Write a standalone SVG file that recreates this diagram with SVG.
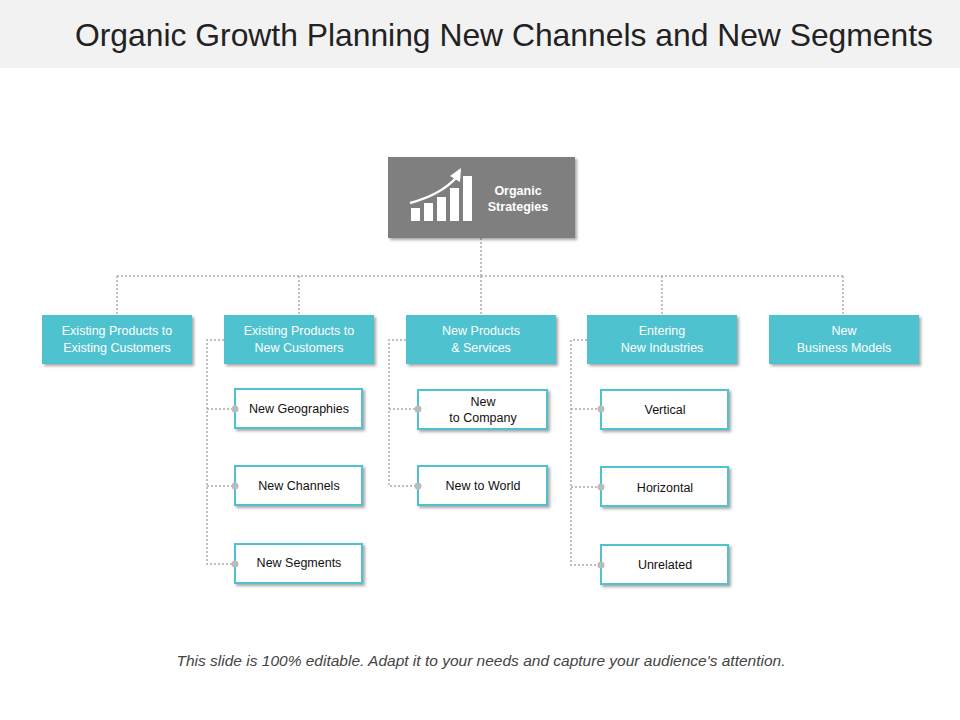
<svg xmlns="http://www.w3.org/2000/svg" width="960" height="720" viewBox="0 0 960 720">
<defs>
<filter id="sh" x="-10%" y="-10%" width="130%" height="140%"><feDropShadow dx="2" dy="2" stdDeviation="1.5" flood-color="#000" flood-opacity="0.35"/></filter>
</defs>
<style>
.t{font-family:"Liberation Sans",Arial,sans-serif}
.p{fill:#4fc2cf;filter:url(#sh)}
.pt{fill:#fff;font-size:12.5px;text-anchor:middle}
.c{fill:#fff;stroke:#4fc2cf;stroke-width:2;filter:url(#sh)}
.ct{fill:#111;font-size:12.5px;text-anchor:middle}
.ln{fill:none;stroke:#aaa;stroke-width:1.5;stroke-dasharray:2 2}
.d{fill:#bbb}
</style>
<rect x="0" y="0" width="960" height="68" fill="#f2f2f2"/>
<text class="t" x="75" y="46" font-size="31.5" fill="#222" textLength="858" lengthAdjust="spacingAndGlyphs">Organic Growth Planning New Channels and New Segments</text>
<g id="connectors">
<path class="ln" d="M481 238V276M117 276H843M117 276V315M299 276V315M481 276V315M662 276V315M843 276V315"/>
<path class="ln" d="M224 340H207V564H235M207 409H235M207 486H235"/>
<path class="ln" d="M406 340H389V486H418M389 409H418"/>
<path class="ln" d="M587 340H571V565H601M571 409H601M571 487H601"/>
</g>
<g id="root">
<rect x="388" y="157" width="187" height="81" fill="#7f7f7f" filter="url(#sh)"/>
<g fill="#fff"><rect x="411" y="208" width="9" height="13"/><rect x="424" y="203" width="9" height="18"/><rect x="437" y="197" width="9" height="24"/><rect x="450" y="188" width="9" height="33"/><rect x="463" y="176" width="9" height="45"/></g>
<path d="M410 203Q440 195 456 178" fill="none" stroke="#fff" stroke-width="2.5"/>
<path d="M461 168L460 182L450 176Z" fill="#fff"/>
<text class="t" x="518" y="195" font-size="12.5" font-weight="bold" fill="#fff" text-anchor="middle">Organic</text>
<text class="t" x="518" y="211" font-size="12.5" font-weight="bold" fill="#fff" text-anchor="middle">Strategies</text>
</g>
<g id="p1"><rect class="p" x="42" y="315" width="150" height="49"/><text class="t pt" x="117" y="335">Existing Products to</text><text class="t pt" x="117" y="352">Existing Customers</text></g>
<g id="p2"><rect class="p" x="224" y="315" width="150" height="49"/><text class="t pt" x="299" y="335">Existing Products to</text><text class="t pt" x="299" y="352">New Customers</text></g>
<g id="p3"><rect class="p" x="406" y="315" width="150" height="49"/><text class="t pt" x="481" y="335">New Products</text><text class="t pt" x="481" y="352">&amp; Services</text></g>
<g id="p4"><rect class="p" x="587" y="315" width="150" height="49"/><text class="t pt" x="662" y="335">Entering</text><text class="t pt" x="662" y="352">New Industries</text></g>
<g id="p5"><rect class="p" x="769" y="315" width="150" height="49"/><text class="t pt" x="844" y="335">New</text><text class="t pt" x="844" y="352">Business Models</text></g>
<g id="c1"><rect class="c" x="235" y="389" width="127" height="39"/><text class="t ct" x="299" y="413">New Geographies</text></g>
<g id="c2"><rect class="c" x="235" y="466" width="127" height="39"/><text class="t ct" x="299" y="490">New Channels</text></g>
<g id="c3"><rect class="c" x="235" y="544" width="127" height="39"/><text class="t ct" x="299" y="567">New Segments</text></g>
<g id="c4"><rect class="c" x="418" y="390" width="129" height="39"/><text class="t ct" x="483" y="406">New</text><text class="t ct" x="483" y="422">to Company</text></g>
<g id="c5"><rect class="c" x="418" y="466" width="129" height="39"/><text class="t ct" x="483" y="490">New to World</text></g>
<g id="c6"><rect class="c" x="601" y="390" width="127" height="39"/><text class="t ct" x="665" y="414">Vertical</text></g>
<g id="c7"><rect class="c" x="601" y="467" width="127" height="39"/><text class="t ct" x="665" y="492">Horizontal</text></g>
<g id="c8"><rect class="c" x="601" y="545" width="127" height="39"/><text class="t ct" x="665" y="569">Unrelated</text></g>
<g id="dots">
<circle class="d" cx="235" cy="409" r="3.5"/><circle class="d" cx="235" cy="486" r="3.5"/><circle class="d" cx="235" cy="564" r="3.5"/>
<circle class="d" cx="418" cy="409" r="3.5"/><circle class="d" cx="418" cy="486" r="3.5"/>
<circle class="d" cx="601" cy="409" r="3.5"/><circle class="d" cx="601" cy="487" r="3.5"/><circle class="d" cx="601" cy="565" r="3.5"/>
</g>
<text class="t" x="481" y="666" font-size="15.5" font-style="italic" fill="#444" text-anchor="middle">This slide is 100% editable. Adapt it to your needs and capture your audience's attention.</text>
</svg>
